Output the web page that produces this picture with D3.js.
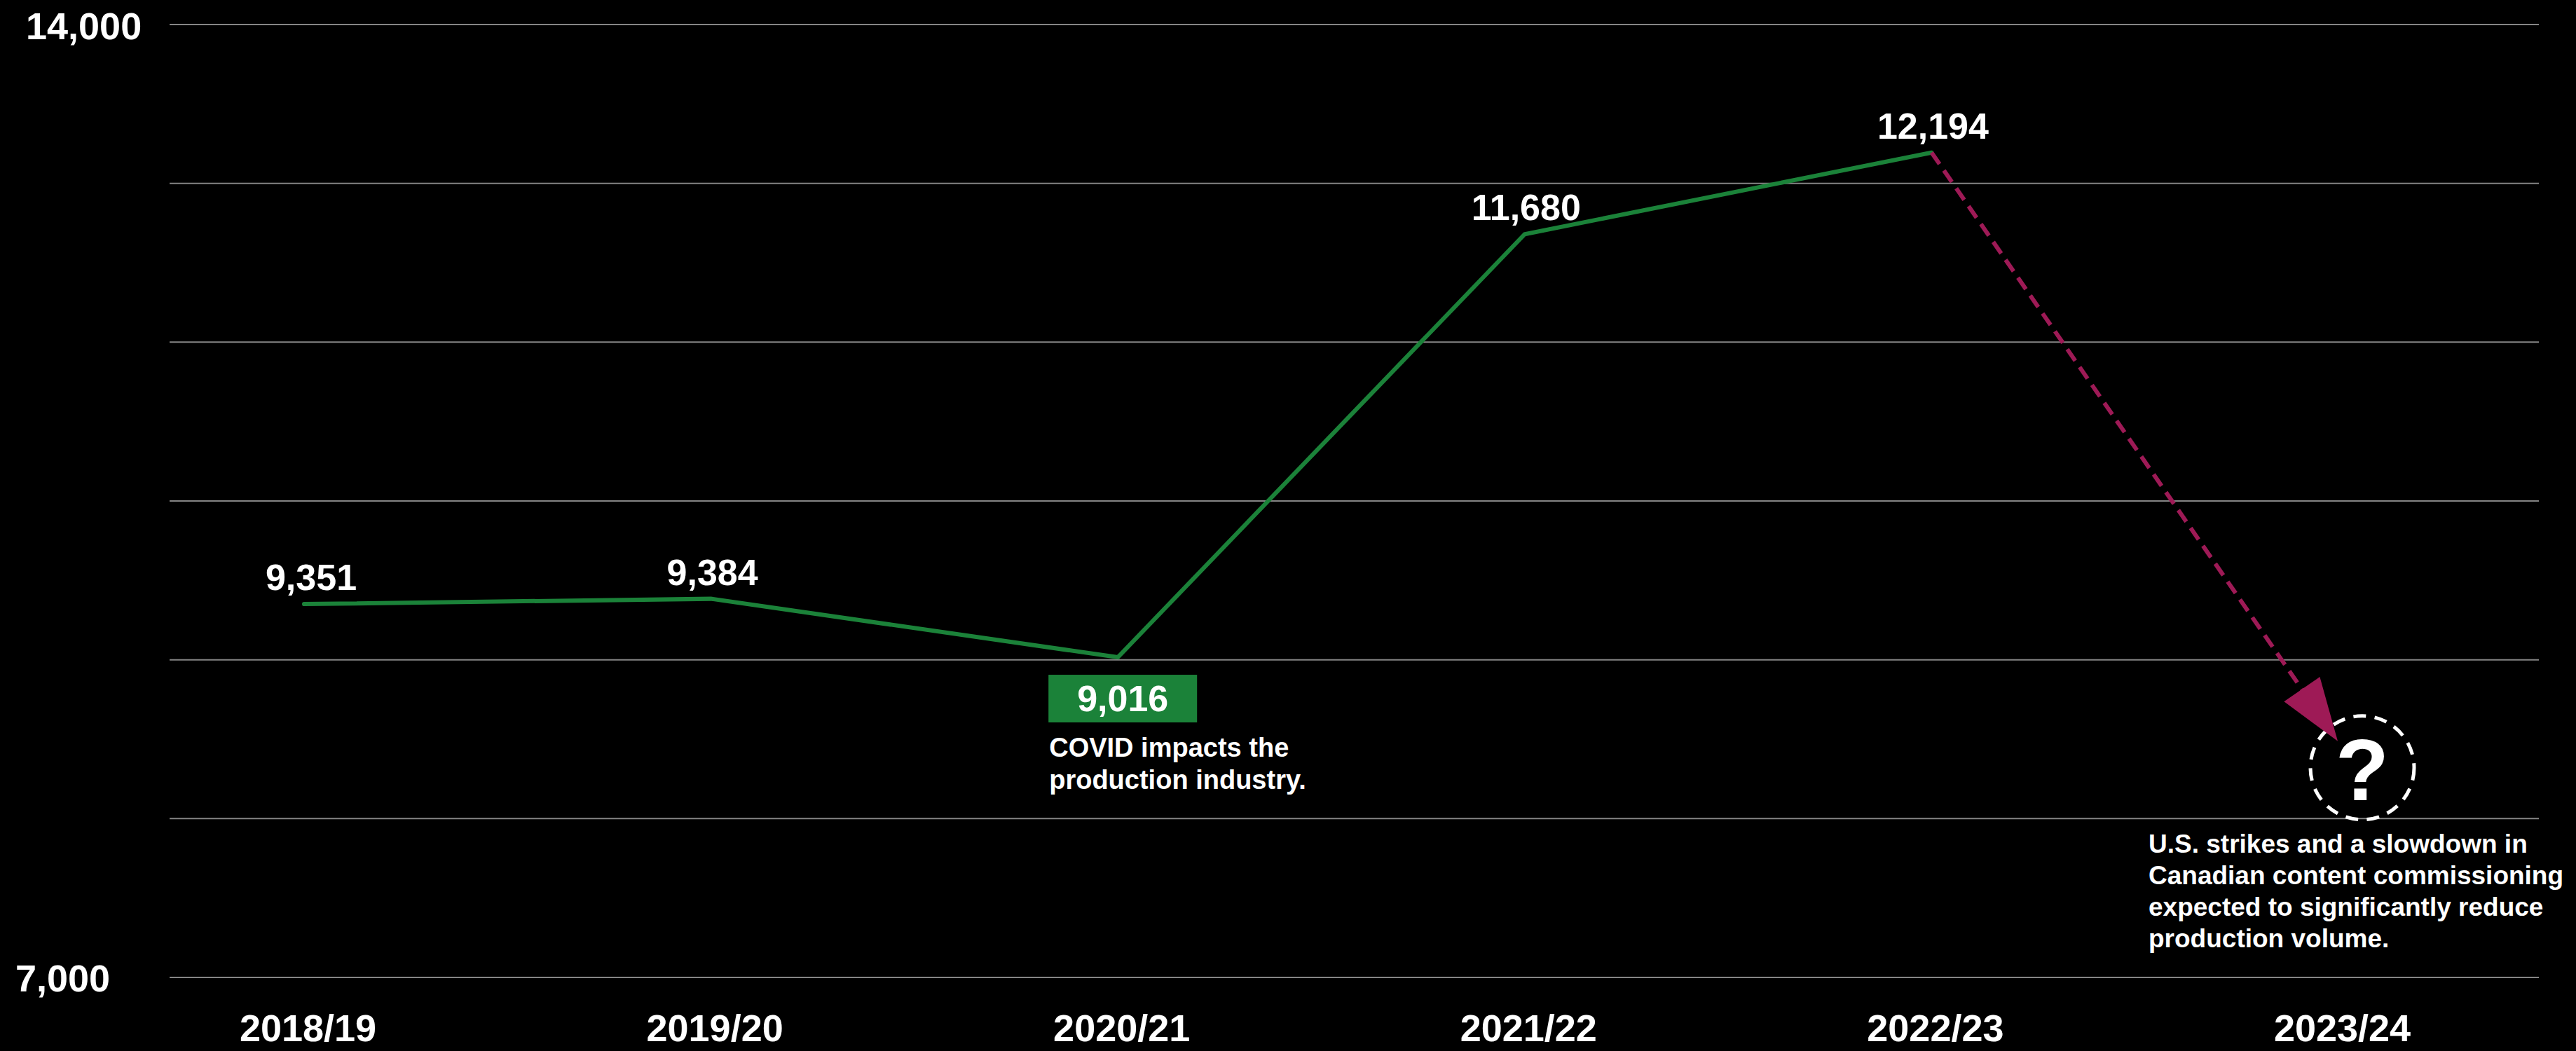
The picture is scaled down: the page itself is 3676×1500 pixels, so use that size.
<!DOCTYPE html>
<html>
<head>
<meta charset="utf-8">
<title>Production volume</title>
<script src="https://cdn.jsdelivr.net/npm/d3@7"></script>
<style>
  html, body { margin: 0; padding: 0; background: #000; }
  svg { display: block; }
  text { font-family: "Liberation Sans", Arial, Helvetica, sans-serif; font-weight: 700; fill: #fff; }
</style>
</head>
<body>
<svg id="chart" width="3676" height="1500"></svg>
<script>
// Fiscal years shown on the horizontal axis
const categories = ["2018/19", "2019/20", "2020/21", "2021/22", "2022/23", "2023/24"];
// Reported production volume per fiscal year (2023/24 not yet reported)
const productionVolume = [9351, 9384, 9016, 11680, 12194];
// Horizontal gridlines
const gridValues = [7000, 8000, 9000, 10000, 11000, 12000, 13000];
// Labels printed at the bottom and top ends of the vertical axis
const axisEndLabels = ["7,000", "14,000"];
// Annotation texts
const covidNote = ["COVID impacts the", "production industry."];
const outlookNote = [
  "U.S. strikes and a slowdown in",
  "Canadian content commissioning",
  "expected to significantly reduce",
  "production volume."
];
const highlightedYear = "2020/21";
const unknownYear = "2023/24";

const GREEN = "#1b8239";
const MAGENTA = "#9e1a56";
const GRID = "#858585";

const svg = d3.select("#chart");
const fmt = d3.format(",");

const x = d3.scalePoint().domain(categories).range([434, 3337]);
const y = d3.scaleLinear().domain([7000, 13000]).range([1395, 35]);

// Gridlines
svg.append("g")
  .selectAll("line")
  .data(gridValues)
  .join("line")
  .attr("x1", 242).attr("x2", 3623)
  .attr("y1", d => y(d)).attr("y2", d => y(d))
  .attr("stroke", GRID).attr("stroke-width", 2);

// Axis end labels (bottom, top)
const endPos = [
  { label: axisEndLabels[0], x: 22, y: y(gridValues[0]) + 20 },
  { label: axisEndLabels[1], x: 37, y: y(gridValues[gridValues.length - 1]) + 21 }
];
svg.append("g")
  .selectAll("text")
  .data(endPos)
  .join("text")
  .attr("x", d => d.x).attr("y", d => d.y)
  .attr("font-size", 54)
  .text(d => d.label);

// Category labels
const xAxis = d3.axisBottom(x).tickSize(0).tickPadding(0);
const gx = svg.append("g").attr("transform", "translate(5,1486)").call(xAxis);
gx.select(".domain").remove();
gx.selectAll("text")
  .attr("dy", 0).attr("y", 0)
  .attr("font-size", 54)
  .attr("fill", "#fff")
  .style("font-family", "'Liberation Sans', Arial, sans-serif")
  .style("font-weight", 700);

// Series points
const points = productionVolume.map((v, i) => ({ year: categories[i], value: v }));

// Line
const line = d3.line().x(d => x(d.year)).y(d => y(d.value));
svg.append("path")
  .datum(points)
  .attr("d", line)
  .attr("fill", "none")
  .attr("stroke", GREEN)
  .attr("stroke-width", 6)
  .attr("stroke-linecap", "round")
  .attr("stroke-linejoin", "miter");

// Value labels above the line
svg.append("g")
  .selectAll("text")
  .data(points.filter(d => d.year !== highlightedYear))
  .join("text")
  .attr("x", d => x(d.year) + (d.year === categories[0] ? 10 : 2))
  .attr("y", d => y(d.value) - 20)
  .attr("text-anchor", "middle")
  .attr("font-size", 52)
  .text(d => fmt(d.value));

// Highlighted value in a green box, with note below
const hp = points.find(d => d.year === highlightedYear);
const boxW = 212, boxH = 68;
const boxX = x(hp.year) + 7 - boxW / 2;
const boxY = y(hp.value) + 25;
const hg = svg.append("g");
hg.append("rect")
  .attr("x", boxX).attr("y", boxY)
  .attr("width", boxW).attr("height", boxH)
  .attr("fill", GREEN);
hg.append("text")
  .attr("x", boxX + boxW / 2).attr("y", boxY + 52)
  .attr("text-anchor", "middle")
  .attr("font-size", 52)
  .text(fmt(hp.value));
hg.append("g")
  .selectAll("text")
  .data(covidNote)
  .join("text")
  .attr("x", boxX + 1)
  .attr("y", (d, i) => boxY + 117 + i * 46)
  .attr("font-size", 38)
  .text(d => d);

// Unknown next-year marker: dashed circle with a question mark
const cx = x(unknownYear) + 34;
const cy = y(8320);
const r = 74;
svg.append("circle")
  .attr("cx", cx).attr("cy", cy).attr("r", r)
  .attr("fill", "none")
  .attr("stroke", "#fff")
  .attr("stroke-width", 5)
  .attr("stroke-dasharray", "18 12.5");
svg.append("text")
  .attr("x", cx).attr("y", cy + 46)
  .attr("text-anchor", "middle")
  .attr("font-size", 125)
  .text("?");

// Dashed arrow from the last reported value to the marker
const last = points[points.length - 1];
const sx = x(last.year), sy = y(last.value);
const tx = cx - 35, ty = cy - 38;
const len = Math.hypot(tx - sx, ty - sy);
const ux = (tx - sx) / len, uy = (ty - sy) / len;
const headLen = 90, headHalf = 31;
const bx = tx - ux * headLen, by = ty - uy * headLen;
svg.append("line")
  .attr("x1", sx).attr("y1", sy)
  .attr("x2", bx + ux * 4).attr("y2", by + uy * 4)
  .attr("stroke", MAGENTA)
  .attr("stroke-width", 6)
  .attr("stroke-dasharray", "20 11");
svg.append("polygon")
  .attr("points", [
    [tx, ty],
    [bx - uy * headHalf, by + ux * headHalf],
    [bx + uy * headHalf, by - ux * headHalf]
  ].map(p => p.join(",")).join(" "))
  .attr("fill", MAGENTA);

// Outlook note
svg.append("g")
  .selectAll("text")
  .data(outlookNote)
  .join("text")
  .attr("x", 3066)
  .attr("y", (d, i) => 1217 + i * 45)
  .attr("font-size", 37)
  .text(d => d);
</script>
</body>
</html>
